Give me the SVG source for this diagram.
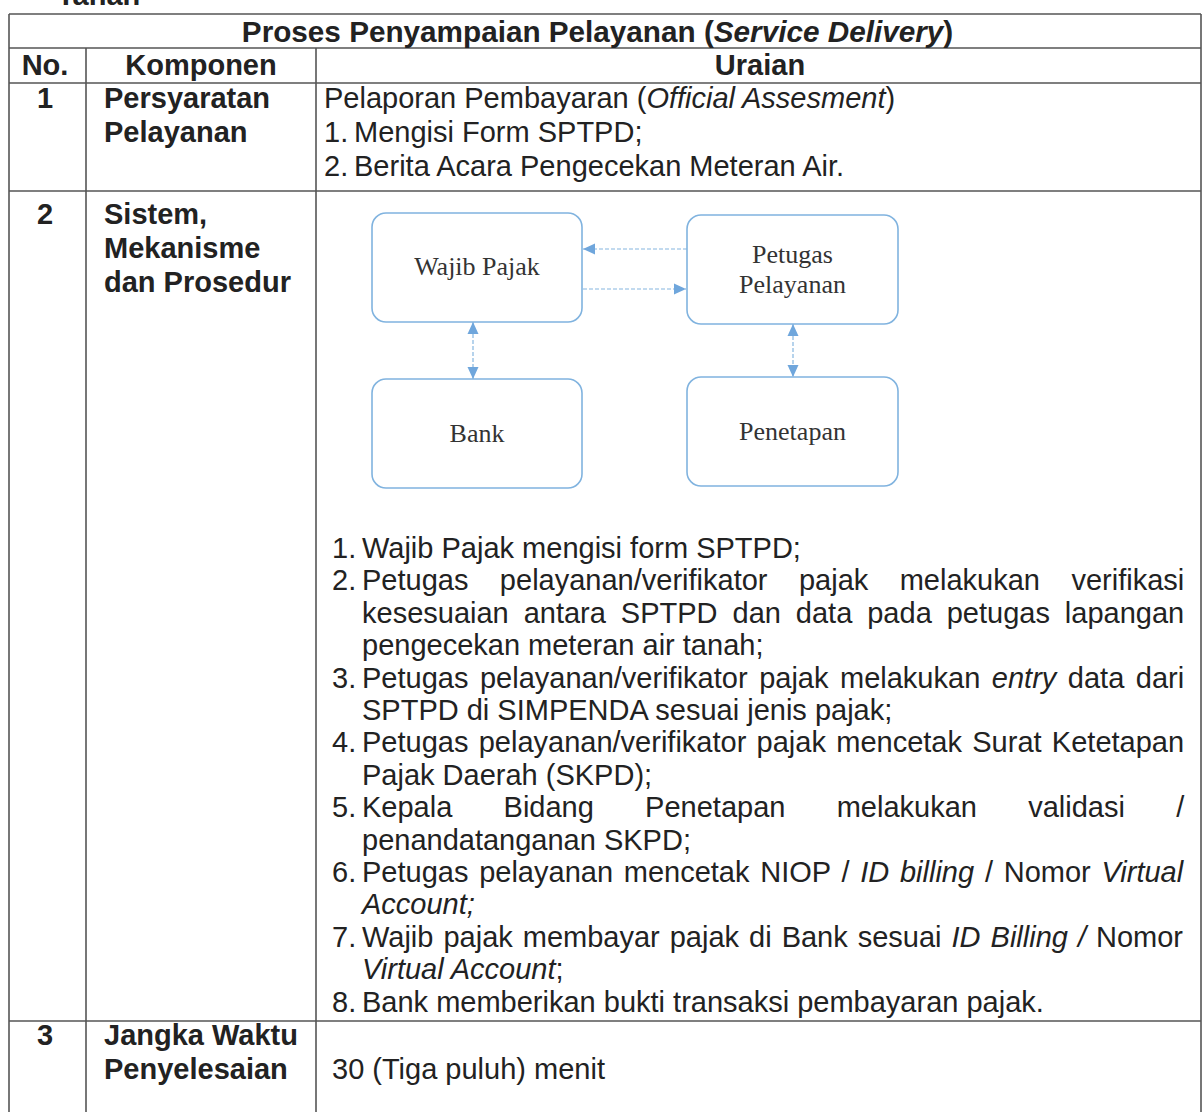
<svg xmlns="http://www.w3.org/2000/svg" width="1203" height="1112" viewBox="0 0 1203 1112">
<style>
.t{font-family:"Liberation Sans",Arial,sans-serif;font-size:29px;fill:#222}
.b{font-weight:bold}
.i{font-style:italic}
.c{text-anchor:middle}
.grid{stroke:#555;stroke-width:1.6;fill:none}
.box{fill:none;stroke:#80b3df;stroke-width:1.6}
.lbl{font-family:"Liberation Serif","Times New Roman",serif;font-size:26px;fill:#333;text-anchor:middle}
.conn{stroke:#86b6e0;stroke-width:1.2;stroke-dasharray:4 2;fill:none}
</style>
<defs>
<marker id="ah" viewBox="0 0 12 12" refX="12" refY="6" markerWidth="12" markerHeight="12" markerUnits="userSpaceOnUse" orient="auto-start-reverse">
<path d="M0,0.5 L12,6 L0,11.5 z" fill="#6fa6dc"/>
</marker>
</defs>
<rect width="1203" height="1112" fill="#fff"/>
<text class="t b" x="57" y="5">Tanah</text>
<g id="table" class="grid">
<line x1="9" y1="14" x2="1201" y2="14"/>
<line x1="9" y1="14" x2="9" y2="1112"/>
<line x1="1201" y1="14" x2="1201" y2="1112"/>
<line x1="9" y1="48" x2="1201" y2="48"/>
<line x1="9" y1="83" x2="1201" y2="83"/>
<line x1="9" y1="191" x2="1201" y2="191"/>
<line x1="9" y1="1021" x2="1201" y2="1021"/>
<line x1="86" y1="48" x2="86" y2="1112"/>
<line x1="316" y1="48" x2="316" y2="1112"/>
</g>
<g id="header">
<text class="t b c" x="597.5" y="42" style="font-size:29.7px">Proses Penyampaian Pelayanan (<tspan class="i">Service Delivery</tspan>)</text>
<text class="t b c" x="45" y="75">No.</text>
<text class="t b c" x="201" y="75">Komponen</text>
<text class="t b c" x="760" y="75">Uraian</text>
</g>
<g id="row1">
<text class="t b c" x="45" y="108">1</text>
<text class="t b" x="104" y="108">Persyaratan</text>
<text class="t b" x="104" y="142">Pelayanan</text>
<text class="t" x="324" y="108">Pelaporan Pembayaran (<tspan class="i">Official Assesment</tspan>)</text>
<text class="t" x="324" y="142">1.</text><text class="t" x="354" y="142">Mengisi Form SPTPD;</text>
<text class="t" x="324" y="176">2.</text><text class="t" x="354" y="176">Berita Acara Pengecekan Meteran Air.</text>
</g>
<g id="row2">
<text class="t b c" x="45" y="224">2</text>
<text class="t b" x="104" y="224">Sistem,</text>
<text class="t b" x="104" y="258">Mekanisme</text>
<text class="t b" x="104" y="292">dan Prosedur</text>
</g>
<g id="node-wajib-pajak">
<rect class="box" x="372" y="213" width="210" height="109" rx="14"/>
<text class="lbl" x="477" y="275">Wajib Pajak</text>
</g>
<g id="node-petugas-pelayanan">
<rect class="box" x="687" y="215" width="211" height="109" rx="14"/>
<text class="lbl" x="792.5" y="263">Petugas</text>
<text class="lbl" x="792.5" y="293">Pelayanan</text>
</g>
<g id="node-bank">
<rect class="box" x="372" y="379" width="210" height="109" rx="14"/>
<text class="lbl" x="477" y="442">Bank</text>
</g>
<g id="node-penetapan">
<rect class="box" x="687" y="377" width="211" height="109" rx="14"/>
<text class="lbl" x="792.5" y="440">Penetapan</text>
</g>
<g id="connectors">
<line class="conn" x1="687" y1="249" x2="583" y2="249" marker-end="url(#ah)"/>
<line class="conn" x1="583" y1="289" x2="686" y2="289" marker-end="url(#ah)"/>
<line class="conn" x1="473" y1="322" x2="473" y2="379" marker-start="url(#ah)" marker-end="url(#ah)"/>
<line class="conn" x1="793" y1="324" x2="793" y2="377" marker-start="url(#ah)" marker-end="url(#ah)"/>
</g>
<g id="steps">
<text class="t" x="332" y="558">1.</text><text class="t" x="362" y="558">Wajib Pajak mengisi form SPTPD;</text>
<text class="t" x="332" y="590.4">2.</text><text class="t" x="362" y="590.4" word-spacing="23.4">Petugas pelayanan/verifikator pajak melakukan verifikasi</text>
<text class="t" x="362" y="622.8" word-spacing="6.9">kesesuaian antara SPTPD dan data pada petugas lapangan</text>
<text class="t" x="362" y="655.2">pengecekan meteran air tanah;</text>
<text class="t" x="332" y="687.6">3.</text><text class="t" x="362" y="687.6" word-spacing="3.5">Petugas pelayanan/verifikator pajak melakukan <tspan class="i">entry</tspan> data dari</text>
<text class="t" x="362" y="720">SPTPD di SIMPENDA sesuai jenis pajak;</text>
<text class="t" x="332" y="752.4">4.</text><text class="t" x="362" y="752.4" word-spacing="2.24">Petugas pelayanan/verifikator pajak mencetak Surat Ketetapan</text>
<text class="t" x="362" y="784.8">Pajak Daerah (SKPD);</text>
<text class="t" x="332" y="817.2">5.</text><text class="t" x="362" y="817.2" word-spacing="43.2">Kepala Bidang Penetapan melakukan validasi /</text>
<text class="t" x="362" y="849.6">penandatanganan SKPD;</text>
<text class="t" x="332" y="882">6.</text><text class="t" x="362" y="882" word-spacing="2.7">Petugas pelayanan mencetak NIOP / <tspan class="i">ID billing</tspan> / Nomor <tspan class="i">Virtual</tspan></text>
<text class="t i" x="362" y="914.4">Account;</text>
<text class="t" x="332" y="946.8">7.</text><text class="t" x="362" y="946.8" word-spacing="1.94">Wajib pajak membayar pajak di Bank sesuai <tspan class="i">ID Billing /</tspan> Nomor</text>
<text class="t" x="362" y="979.2"><tspan class="i">Virtual Account</tspan>;</text>
<text class="t" x="332" y="1011.6">8.</text><text class="t" x="362" y="1011.6">Bank memberikan bukti transaksi pembayaran pajak.</text>
</g>
<g id="row3">
<text class="t b c" x="45" y="1045">3</text>
<text class="t b" x="104" y="1045">Jangka Waktu</text>
<text class="t b" x="104" y="1079">Penyelesaian</text>
<text class="t" x="332" y="1079">30 (Tiga puluh) menit</text>
</g>
</svg>
